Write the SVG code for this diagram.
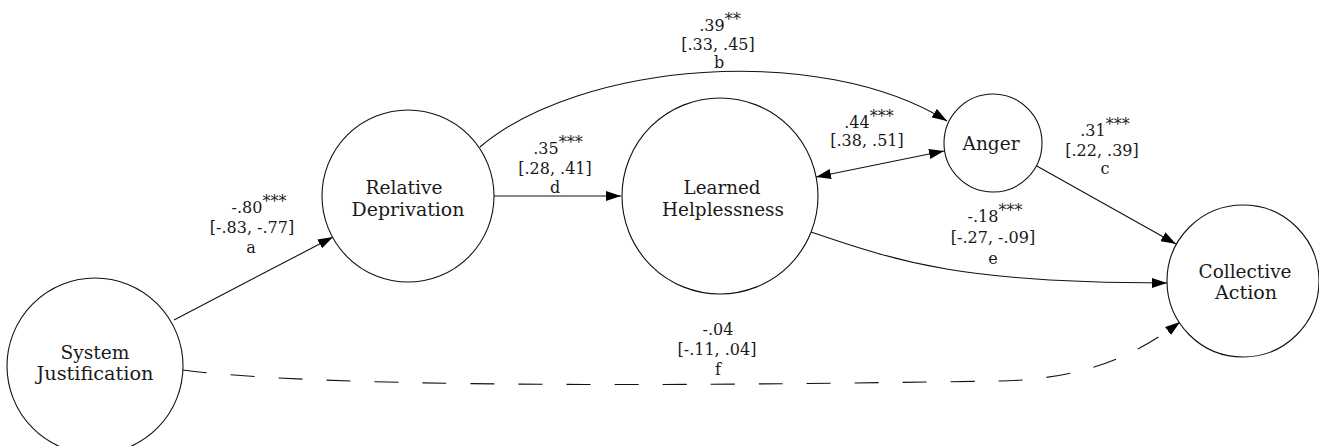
<svg xmlns="http://www.w3.org/2000/svg" width="1319" height="446" viewBox="0 0 1319 446">
<style>
.node circle{fill:#fff;stroke:#111;stroke-width:1.1}
.nt{font-family:"DejaVu Serif","Liberation Serif",serif;font-size:18.5px;fill:#1a1a1a;text-anchor:middle}
.lb{font-family:"DejaVu Serif","Liberation Serif",serif;font-size:16px;fill:#1a1a1a;text-anchor:middle}
.sup{font-size:16px}
.edge{fill:none;stroke:#111;stroke-width:1.1}
</style>
<defs>
<marker id="ah" viewBox="0 0 15 10" refX="15" refY="5" markerWidth="15" markerHeight="10" markerUnits="userSpaceOnUse" orient="auto-start-reverse">
<path d="M0,0 L15,5 L0,10 z" fill="#000"/>
</marker>
</defs>
<g id="connectors">
<path class="edge" d="M174,320 L333,237" marker-end="url(#ah)"/>
<path class="edge" d="M480,147 C580,62 820,42 947,121" marker-end="url(#ah)"/>
<path class="edge" d="M494,196 L621,196" marker-end="url(#ah)"/>
<path class="edge" d="M816,177 L944,151" marker-start="url(#ah)" marker-end="url(#ah)"/>
<path class="edge" d="M1035,165 L1176,244" marker-end="url(#ah)"/>
<path class="edge" d="M811,232 C900,262 960,283 1167,283" marker-end="url(#ah)"/>
<path class="edge" d="M183,370 C350,392 850,383 1000,381 C1090,379 1140,352 1180,322" stroke-dasharray="24,24" marker-end="url(#ah)"/>
</g>
<g id="labels">
<text class="lb" x="259" y="213">-.80<tspan class="sup" dy="-6">***</tspan></text>
<text class="lb" x="252" y="233" dy="0">[-.83, -.77]</text>
<text class="lb" x="251" y="253">a</text>
<text class="lb" x="720" y="31">.39<tspan class="sup" dy="-6">**</tspan></text>
<text class="lb" x="718" y="50">[.33, .45]</text>
<text class="lb" x="719" y="68">b</text>
<text class="lb" x="558" y="154">.35<tspan class="sup" dy="-6">***</tspan></text>
<text class="lb" x="555" y="174">[.28, .41]</text>
<text class="lb" x="555" y="193">d</text>
<text class="lb" x="869" y="128">.44<tspan class="sup" dy="-6">***</tspan></text>
<text class="lb" x="867" y="146">[.38, .51]</text>
<text class="lb" x="1105" y="136">.31<tspan class="sup" dy="-6">***</tspan></text>
<text class="lb" x="1102" y="156">[.22, .39]</text>
<text class="lb" x="1105" y="174">c</text>
<text class="lb" x="995" y="222">-.18<tspan class="sup" dy="-6">***</tspan></text>
<text class="lb" x="993" y="243">[-.27, -.09]</text>
<text class="lb" x="993" y="264">e</text>
<text class="lb" x="718" y="335">-.04</text>
<text class="lb" x="717" y="355">[-.11, .04]</text>
<text class="lb" x="718" y="375">f</text>
</g>
<g id="node-sj" class="node">
<circle cx="95" cy="366" r="88"/>
<text class="nt" x="95" y="359" textLength="69" lengthAdjust="spacingAndGlyphs">System</text>
<text class="nt" x="95" y="380" textLength="117" lengthAdjust="spacingAndGlyphs">Justification</text>
</g>
<g id="node-rd" class="node">
<circle cx="408" cy="196" r="86"/>
<text class="nt" x="404" y="194" textLength="77" lengthAdjust="spacingAndGlyphs">Relative</text>
<text class="nt" x="408" y="216" textLength="113" lengthAdjust="spacingAndGlyphs">Deprivation</text>
</g>
<g id="node-lh" class="node">
<circle cx="720" cy="196" r="98"/>
<text class="nt" x="722" y="194" textLength="77" lengthAdjust="spacingAndGlyphs">Learned</text>
<text class="nt" x="723" y="216" textLength="122" lengthAdjust="spacingAndGlyphs">Helplessness</text>
</g>
<g id="node-anger" class="node">
<circle cx="993" cy="143" r="49"/>
<text class="nt" x="991" y="150" textLength="57" lengthAdjust="spacingAndGlyphs">Anger</text>
</g>
<g id="node-ca" class="node">
<circle cx="1243" cy="281" r="76"/>
<text class="nt" x="1245" y="278" textLength="93" lengthAdjust="spacingAndGlyphs">Collective</text>
<text class="nt" x="1246" y="299" textLength="62" lengthAdjust="spacingAndGlyphs">Action</text>
</g>
</svg>
